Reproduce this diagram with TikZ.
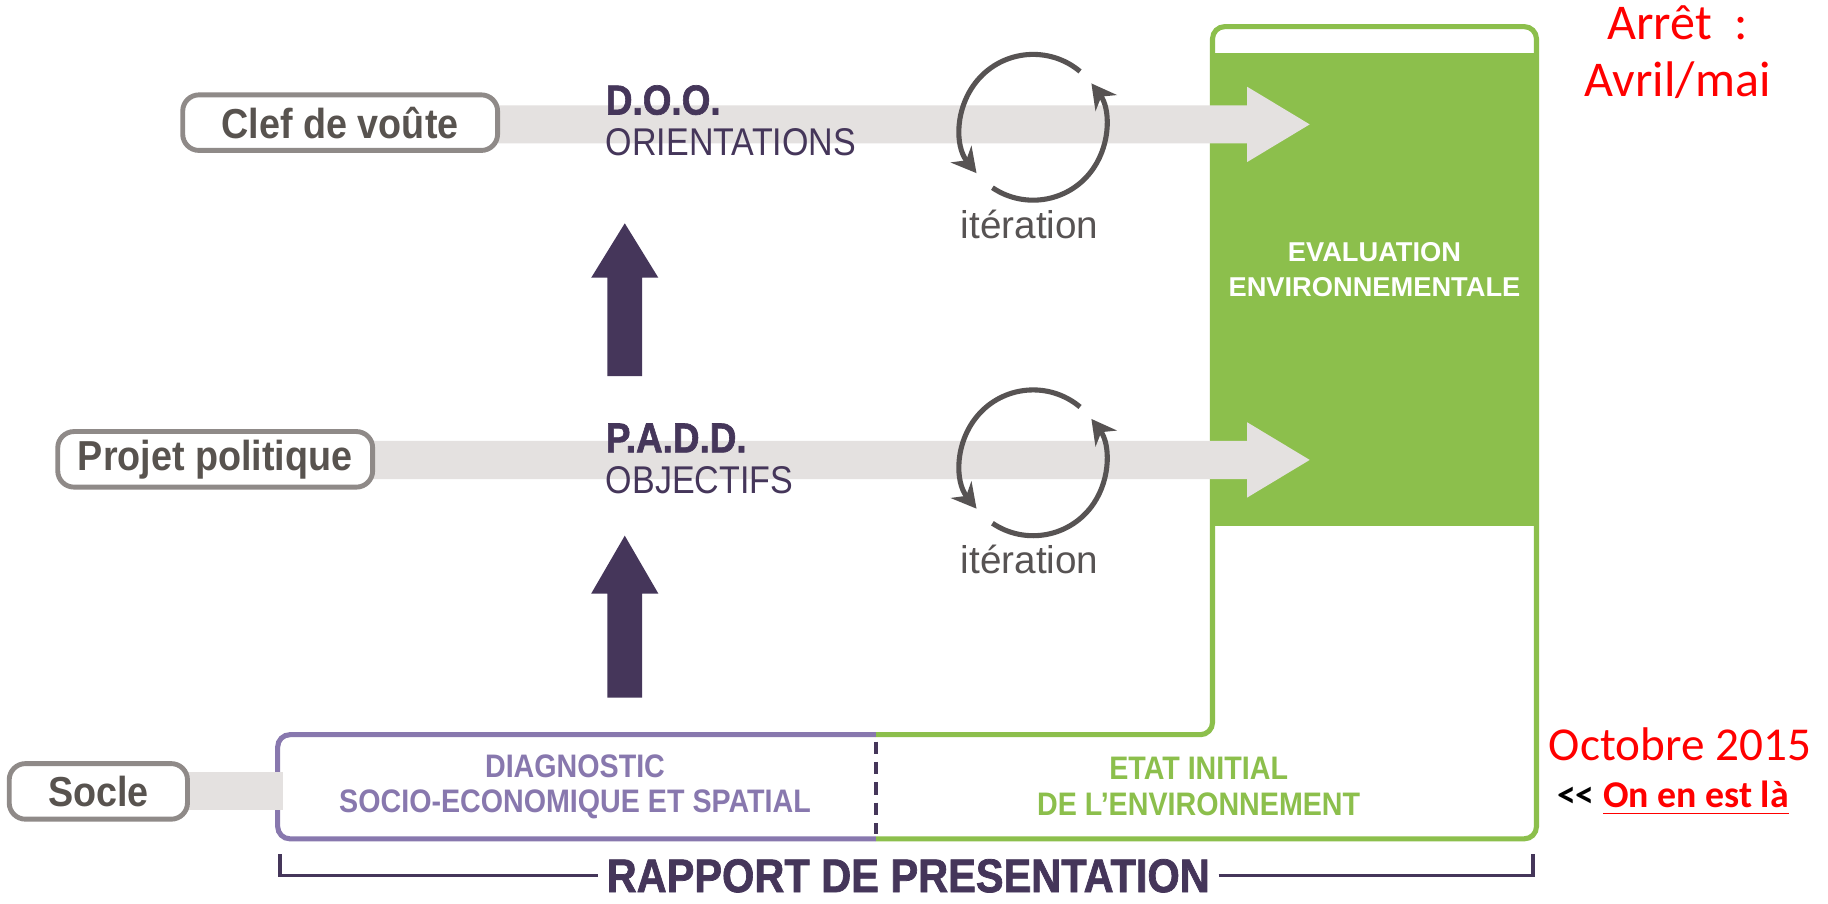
\documentclass[tikz,border=0pt]{standalone}
\usepackage{fontspec}
\usepackage{graphicx}
\setmainfont{Liberation Sans}
\newfontfamily\calibri{Carlito}
\newfontfamily\heavyfont[FakeBold=1.6]{Liberation Sans Bold}
\usetikzlibrary{arrows.meta}
\definecolor{barg}{HTML}{E4E1E0}
\definecolor{boxg}{HTML}{8F8A88}
\definecolor{txtg}{HTML}{58534F}
\definecolor{dpur}{HTML}{45365A}
\definecolor{lav}{HTML}{8878AE}
\definecolor{grn}{HTML}{8CBF4C}
\definecolor{itg}{HTML}{575353}
\newcommand{\cx}[1]{\scalebox{0.88}[1]{#1}}
\newcommand{\cxb}[1]{\scalebox{0.9}[1]{#1}}
\begin{document}
\begin{tikzpicture}[x=0.01cm,y=-0.01cm,
  lbox/.style={draw=boxg, line width=1.2pt, fill=white, rounded corners=4pt, text=txtg,
    font=\fontsize{10.3}{11}\selectfont\bfseries, inner sep=0pt, minimum height=0.48cm},
  ttl/.style={anchor=base west, inner sep=0pt, text=dpur, font=\fontsize{10.3}{11}\selectfont\heavyfont},
  sub/.style={anchor=base west, inner sep=0pt, text=dpur, font=\fontsize{9.5}{11}\selectfont},
  iter/.style={itg, line width=1.25pt, -{Stealth[length=6pt,width=6.5pt]}},
  itxt/.style={anchor=base, inner sep=0pt, text=itg, font=\fontsize{9.5}{11}\selectfont},
  uparrow/.style={fill=dpur},
  bar/.style={fill=barg},
  red/.style={text=red, font=\calibri\fontsize{12.3}{14}\selectfont, align=center}
]
\useasboundingbox (0,0) rectangle (1580,780.5);
\fill[white] (0,0) rectangle (1580,780.5);

% green evaluation block
\fill[grn] (1048,46) rectangle (1328,455);
\draw[grn, line width=1.25pt, rounded corners=3pt] (757,635) -- (1048,635) -- (1048,23) -- (1328,23) -- (1328,725) -- (757,725);
\draw[lav, line width=1.25pt, rounded corners=3pt] (757,635) -- (240,635) -- (240,725) -- (757,725);
\draw[dpur, line width=1pt, dash pattern=on 3pt off 2pt] (757,641) -- (757,721);

% grey bars
\fill[bar] (300,91) -- (1078,91) -- (1078,75) -- (1132,107.5) -- (1078,140) -- (1078,124) -- (300,124) -- cycle;
\fill[bar] (200,381) -- (1078,381) -- (1078,365) -- (1132,397.5) -- (1078,430) -- (1078,414) -- (200,414) -- cycle;
\fill[bar] (100,667) rectangle (245,700);

% label boxes
\node[lbox, minimum width=2.72cm] (clef) at (294,106) {\cxb{Clef de voûte}};
\node[lbox, minimum width=2.72cm] (projet) at (186,397) {\cxb{Projet politique}};
\node[lbox, minimum width=1.54cm] (socle) at (85,684) {\cxb{Socle}};

% titles
\node[ttl] (doo) at (523,99) {\cx{D.O.O.}};
\node[sub] (orient) at (523,134.5) {\cx{ORIENTATIONS}};
\node[ttl] (padd) at (523,391) {\cx{P.A.D.D.}};
\node[sub] (obj) at (523,426.5) {\cx{OBJECTIFS}};

% iterations
\begin{scope}[shift={(893,110)}, y=0.01cm]
\draw[iter] (50:63) arc[start angle=50, end angle=219, radius=63];
\draw[iter] (236:63) arc[start angle=236, end angle=397, radius=63];
\end{scope}
\begin{scope}[shift={(893,400)}, y=0.01cm]
\draw[iter] (50:63) arc[start angle=50, end angle=219, radius=63];
\draw[iter] (236:63) arc[start angle=236, end angle=397, radius=63];
\end{scope}
\node[itxt] (it1) at (890,206) {itération};
\node[itxt] (it2) at (890,496) {itération};

% up arrows
\fill[uparrow] (525,325) -- (525,240) -- (511,240) -- (540,193) -- (569,240) -- (555,240) -- (555,325) -- cycle;
\fill[uparrow] (525,603) -- (525,513) -- (511,513) -- (540,463) -- (569,513) -- (555,513) -- (555,603) -- cycle;

% evaluation text
\node[text=white, font=\fontsize{6.7}{8.6}\selectfont\bfseries, align=center] (eval) at (1188,233) {EVALUATION\\ENVIRONNEMENTALE};

% bottom texts
\node[text=lav, font=\fontsize{8}{8.8}\selectfont\bfseries, align=center] (diag) at (497,680) {\cx{DIAGNOSTIC}\\\cx{SOCIO-ECONOMIQUE ET SPATIAL}};
\node[text=grn, font=\fontsize{8}{8.8}\selectfont\bfseries, align=center] (etat) at (1036,680) {\cx{ETAT INITIAL}\\\cx{DE L’ENVIRONNEMENT}};

% rapport
\node[text=dpur, font=\fontsize{11.6}{12}\selectfont\heavyfont, inner xsep=2pt, inner ysep=0pt] (rap) at (785,757) {\scalebox{0.88}[1]{RAPPORT DE PRESENTATION}};
\coordinate (bl) at (242,738);
\coordinate (br) at (1325,738);
\draw[dpur, line width=0.75pt] (rap.west) -| (bl);
\draw[dpur, line width=0.75pt] (rap.east) -| (br);

% red annotations
\node[red] (arret) at (1450,45) {Arrêt\ \ :\\Avril/mai};
\node[red, font=\calibri\fontsize{11.6}{12}\selectfont] (oct) at (1452,643) {Octobre 2015};
\node[font=\calibri\fontsize{9.3}{10}\selectfont\bfseries, inner sep=0pt] (here) at (1446,690) {\textless\textless\ \textcolor{red}{\underline{On en est là}}};
\end{tikzpicture}
\end{document}
